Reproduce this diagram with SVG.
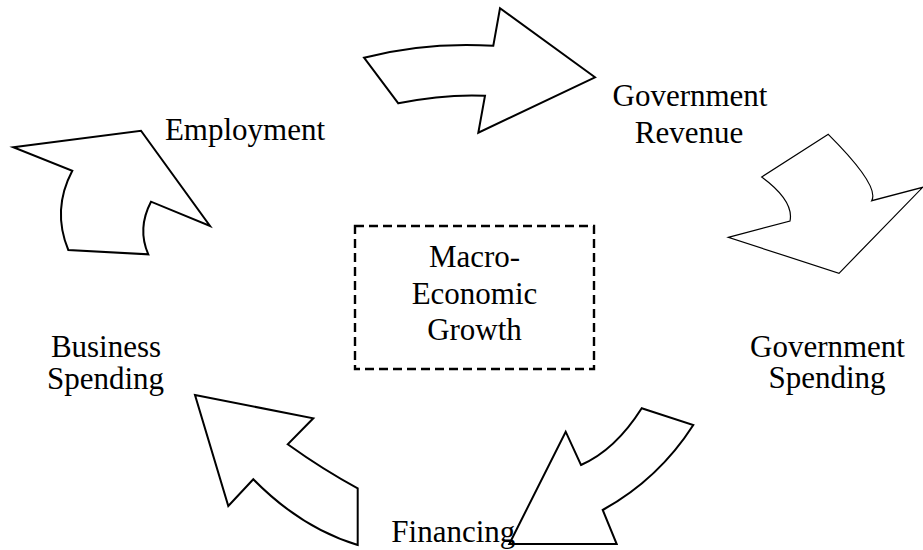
<svg xmlns="http://www.w3.org/2000/svg" width="923" height="550" viewBox="0 0 923 550">
  <style>
    .arrow { fill: #ffffff; stroke: #000000; stroke-width: 2; stroke-linejoin: miter; }
    .thin { stroke-width: 1.2; }
    .label { font-family: "Liberation Serif", "Times New Roman", serif; font-size: 31px; fill: #000000; text-anchor: middle; }
    .frame { fill: none; stroke: #000000; stroke-width: 2.4; stroke-dasharray: 9 5; }
  </style>
  <rect width="923" height="550" fill="#ffffff"/>

  <!-- curved block arrows forming the cycle -->
  <g id="connectors">
    <path id="arrow-employment-revenue" class="arrow" d="M364,57.7 Q424.8,41.7 493.3,45.7 L500,8.3 L595,77.3 L478.3,132.7 L485,95.7 Q444.4,93.9 398.3,103.3 Z"/>
    <path id="arrow-revenue-spending" class="arrow thin" d="M828.3,134.3 L761.7,177 Q794.2,201 790,221 L728.3,237.3 L839,273.3 L922.7,187.3 L871.7,200.7 Q880,185.9 828.3,134.3 Z"/>
    <path id="arrow-spending-financing" class="arrow" d="M641.7,408.3 L693.3,425 Q658.6,479.1 602.7,510 L616.7,544 L509.3,544 L565.7,431.7 L581,465 Q615.3,450 641.7,408.3 Z"/>
    <path id="arrow-financing-business" class="arrow" d="M195,395 L313.3,418.3 L287.7,444.3 Q323.9,470.3 357.7,488.3 L357.7,545 Q301.1,527.9 253.3,479.3 L228.3,506 Z"/>
    <path id="arrow-business-employment" class="arrow" d="M13.3,147.3 L141,130.7 L210,226 L151,201.7 Q137,228.6 148.3,254.3 L68.3,250 Q51.7,209.7 72.3,170.7 Z"/>
  </g>

  <g id="node-employment">
    <text class="label" x="245" y="140">Employment</text>
  </g>

  <g id="node-government-revenue">
    <text class="label" x="690" y="106">Government</text>
    <text class="label" x="689" y="142.5">Revenue</text>
  </g>

  <g id="node-government-spending">
    <text class="label" x="827.5" y="356.7">Government</text>
    <text class="label" x="827" y="388.3">Spending</text>
  </g>

  <g id="node-financing">
    <text class="label" x="453.3" y="542">Financing</text>
  </g>

  <g id="node-business-spending">
    <text class="label" x="106" y="357.3">Business</text>
    <text class="label" x="105.5" y="389.3">Spending</text>
  </g>

  <g id="node-macro-economic-growth">
    <rect class="frame" x="355" y="226" width="239" height="143"/>
    <text class="label" x="474.5" y="267.3">Macro-</text>
    <text class="label" x="474.5" y="303.8">Economic</text>
    <text class="label" x="474.5" y="340">Growth</text>
  </g>
</svg>
